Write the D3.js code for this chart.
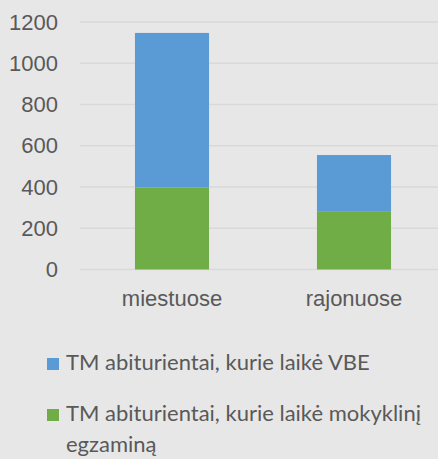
<!DOCTYPE html>
<html>
<head>
<meta charset="utf-8">
<script src="https://cdn.jsdelivr.net/npm/d3@7"></script>
<style>
  body { margin: 0; background: #e7e7e7; }
  svg { display: block; font-family: Lato, "Open Sans", sans-serif; }
  .tick text { fill: #595959; font-size: 22px; }
  .legend text { fill: #595959; font-size: 22px; }
</style>
</head>
<body>
<svg width="438" height="459"></svg>
<script>
const categories = ['miestuose', 'rajonuose'];
const mokyklinis = [398, 283];
const vbe = [749, 272];
const yTicks = [0, 200, 400, 600, 800, 1000, 1200];
const seriesNames = ['TM abiturientai, kurie laikė VBE', 'TM abiturientai, kurie laikė mokyklinį egzaminą'];
const colors = ['#5b9bd5', '#70ad47'];

const svg = d3.select('svg');
const width = +svg.attr('width');
const height = +svg.attr('height');

svg.append('rect').attr('width', width).attr('height', height).attr('fill', '#e7e7e7');

const data = categories.map((c, i) => ({cat: c, mokyklinis: mokyklinis[i], vbe: vbe[i]}));
const stack = d3.stack().keys(['mokyklinis', 'vbe']);
const series = stack(data);

const xScale = d3.scaleBand()
  .domain(categories)
  .range([81, 445])
  .paddingInner(0.593)
  .paddingOuter(0.2965);

const yScale = d3.scaleLinear()
  .domain([0, 1200])
  .range([269.5, 22]);

// gridlines
svg.append('g')
  .selectAll('line').data(yTicks)
  .enter().append('line')
    .attr('x1', 80)
    .attr('x2', width)
    .attr('y1', d => yScale(d))
    .attr('y2', d => yScale(d))
    .attr('stroke', '#d9d9d9')
    .attr('stroke-width', 1.5);

const yAxis = svg.append('g')
  .attr('transform', 'translate(60,0)')
  .call(d3.axisLeft(yScale).tickValues(yTicks).tickFormat(d3.format('d')).tickSize(0).tickPadding(2));
yAxis.select('.domain').remove();
yAxis.selectAll('text').attr('font-family', null);

const xAxis = svg.append('g')
  .attr('transform', 'translate(0,306)')
  .call(d3.axisBottom(xScale).tickSize(0).tickPadding(0));
xAxis.select('.domain').remove();
xAxis.selectAll('text').attr('font-family', null).attr('dy', 0).attr('y', 0);

const fillFor = {mokyklinis: colors[1], vbe: colors[0]};
svg.append('g')
  .selectAll('g').data(series)
  .enter().append('g')
    .attr('fill', d => fillFor[d.key])
  .selectAll('rect').data(d => d)
  .enter().append('rect')
    .attr('x', d => xScale(d.data.cat))
    .attr('y', d => yScale(d[1]))
    .attr('width', xScale.bandwidth())
    .attr('height', d => yScale(d[0]) - yScale(d[1]));

// legend
const legend = svg.append('g').attr('class', 'legend');
const legendRows = [
  {name: seriesNames[0], color: colors[0], y: 358, lines: ['TM abiturientai, kurie laikė VBE']},
  {name: seriesNames[1], color: colors[1], y: 409, lines: ['TM abiturientai, kurie laikė mokyklinį', 'egzaminą']}
];
legendRows.forEach(r => {
  legend.append('rect')
    .attr('x', 47).attr('y', r.y)
    .attr('width', 12).attr('height', 12)
    .attr('fill', r.color);
  const t = legend.append('text')
    .attr('x', 66).attr('y', r.y + 12);
  r.lines.forEach((l, i) => {
    t.append('tspan').attr('x', 66).attr('dy', i === 0 ? 0 : 31).text(l);
  });
});
</script>
</body>
</html>
